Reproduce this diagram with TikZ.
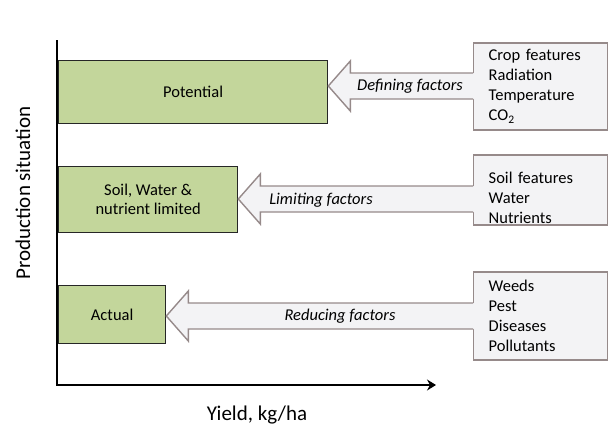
\documentclass[tikz,border=0pt]{standalone}
\usepackage{fontspec}
\setmainfont{Carlito}
\usetikzlibrary{calc,arrows.meta}
\definecolor{sitgreen}{HTML}{C3D69B}
\definecolor{calloutline}{RGB}{150,138,138}
\definecolor{calloutfill}{RGB}{243,243,245}
\tikzset{
	situation/.style={draw=black!85, line width=1.3pt, fill=sitgreen, anchor=north west, inner sep=0pt, align=center, font=\fontsize{16.5}{19}\selectfont},
	factorbox/.style={draw=calloutline, line width=1.4pt, fill=calloutfill, anchor=west, inner xsep=15pt, inner ysep=0pt, minimum width=134pt, text width=104pt, align=left, font=\fontsize{16.5}{20}\selectfont},
	callout/.style={draw=calloutline, line width=1.4pt, line join=miter},
	factorlabel/.style={font=\fontsize{16.5}{20}\selectfont\itshape, inner sep=0pt},
	axislabel/.style={font=\fontsize{21}{24}\selectfont, inner sep=0pt, anchor=base},
	axis/.style={line width=2pt, -{Stealth[length=9pt,width=11pt,inset=3pt]}}
}
% arrow of a callout: (factor box)(situation box)(y of the shaft)
\def\factorarrow(#1)(#2)(#3){
	\coordinate (tip) at (#2.east |- 0,#3);
	\coordinate (root) at (#1.west |- 0,#3);
	\fill[calloutfill] ($(root)+(1.5,-13)$) -- ($(tip)+(22,-13)$) -- ($(tip)+(22,-25)$) -- (tip) -- ($(tip)+(22,25)$) -- ($(tip)+(22,13)$) -- ($(root)+(1.5,13)$) -- cycle;
	\draw[callout] ($(root)+(0,-13)$) -- ($(tip)+(22,-13)$) -- ($(tip)+(22,-25)$) -- (tip) -- ($(tip)+(22,25)$) -- ($(tip)+(22,13)$) -- ($(root)+(0,13)$);
}

\begin{document}
\begin{tikzpicture}[x=1pt, y=-1pt]
	%%%%% START %%%%%
	\useasboundingbox (0,0) rectangle (608,424);
	
	%%%%% AXES %%%%%
	\coordinate (ytop) at (57,40);
	\coordinate (origin) at (57,385);
	\coordinate (xend) at (436,385);
	\draw[axis] (ytop) -- (origin) -- (xend);
	\node[axislabel, rotate=90] (ylab) at (30,193) {Production situation};
	\node[axislabel] (xlab) at (257,420) {Yield, kg/ha};
	
	%%%%% PRODUCTION SITUATIONS %%%%%
	\node[situation, minimum width=269pt, minimum height=63pt] (pot) at (58,60) {Potential};
	\node[situation, minimum width=179pt, minimum height=66pt] (lim) at (58,166) {Soil, Water \&\\nutrient limited};
	\node[situation, minimum width=107pt, minimum height=58pt] (act) at (58,285) {Actual};
	
	%%%%% FACTORS %%%%%
	\node[factorbox, minimum height=87pt] (deffac) at (473,86.5) {Crop features\\Radiation\\Temperature\\CO\textsubscript{2}};
	\node[factorbox, minimum height=70pt] (limfac) at (473,190) {\rule{0pt}{28pt}Soil features\\Water\\Nutrients};
	\node[factorbox, minimum height=88pt] (redfac) at (473,316) {Weeds\\Pest\\Diseases\\Pollutants};
	
	\factorarrow(deffac)(pot)(86)
	\factorarrow(limfac)(lim)(199)
	\factorarrow(redfac)(act)(316)
	
	\node[factorlabel] (deflab) at (410,86) {Defining factors};
	\node[factorlabel] (limlab) at (321,200) {Limiting factors};
	\node[factorlabel] (redlab) at (340,316) {Reducing factors};
	
	%%%%% END %%%%%
\end{tikzpicture}
\end{document}
